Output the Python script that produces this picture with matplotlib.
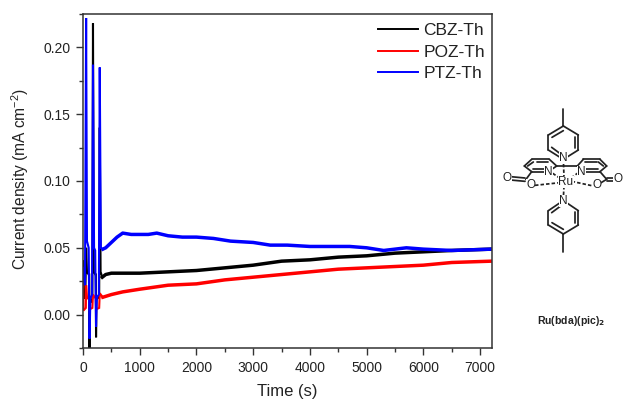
import matplotlib
matplotlib.use("Agg")
import matplotlib.pyplot as plt
from matplotlib.ticker import MultipleLocator, FormatStrFormatter

plt.rcParams['font.family'] = ['Liberation Sans', 'DejaVu Sans']
plt.rcParams['mathtext.default'] = 'regular'

names = ["CBZ-Th", "POZ-Th", "PTZ-Th"]
colors = ["#000000", "#ff0000", "#0000ff"]

cbz_t = [0, 5, 15, 40, 55, 70, 100, 110, 115, 122, 135, 165, 176, 190, 220, 226, 230, 236, 250, 285, 295, 310, 340, 400, 500, 700, 1000, 1500, 2000, 2500, 3000, 3500, 4000, 4500, 5000, 5500, 6000, 6500, 7200]
cbz_v = [0.040, 0.018, 0.014, 0.012, 0.05, 0.032, 0.030, 0.030, -0.025, 0.010, 0.009, 0.012, 0.218, 0.032, 0.030, 0.030, -0.017, 0.011, 0.012, 0.013, 0.14, 0.032, 0.028, 0.030, 0.031, 0.031, 0.031, 0.032, 0.033, 0.035, 0.037, 0.040, 0.041, 0.043, 0.044, 0.046, 0.047, 0.048, 0.049]

poz_t = [0, 4, 8, 50, 55, 70, 110, 118, 165, 175, 225, 232, 285, 295, 350, 500, 700, 1000, 1500, 2000, 2500, 3000, 3500, 4000, 4500, 5000, 5500, 6000, 6500, 7200]
poz_v = [0.023, 0.022, 0.003, 0.005, 0.022, 0.013, 0.011, 0.004, 0.005, 0.015, 0.012, 0.004, 0.005, 0.016, 0.013, 0.015, 0.017, 0.019, 0.022, 0.023, 0.026, 0.028, 0.030, 0.032, 0.034, 0.035, 0.036, 0.037, 0.039, 0.040]

ptz_t = [0, 15, 35, 55, 70, 100, 115, 130, 160, 176, 195, 215, 230, 245, 280, 295, 315, 350, 400, 500, 600, 700, 850, 1000, 1150, 1300, 1500, 1750, 2000, 2300, 2600, 3000, 3300, 3600, 4000, 4300, 4700, 5000, 5300, 5700, 6000, 6500, 7200]
ptz_v = [0.035, 0.025, 0.022, 0.222, 0.055, 0.050, -0.018, 0.012, 0.015, 0.187, 0.050, 0.048, -0.009, 0.013, 0.015, 0.185, 0.050, 0.049, 0.050, 0.054, 0.058, 0.061, 0.060, 0.060, 0.060, 0.061, 0.059, 0.058, 0.058, 0.057, 0.055, 0.054, 0.052, 0.052, 0.051, 0.051, 0.051, 0.050, 0.048, 0.050, 0.049, 0.048, 0.049]

W, H = 623, 400
fig = plt.figure(figsize=(W / 100, H / 100), dpi=100)
ax = fig.add_axes([83 / W, 1 - 348 / H, (491.5 - 83) / W, (348 - 14) / H])
frame = "#333333"

series = [(cbz_t, cbz_v), (poz_t, poz_v), (ptz_t, ptz_v)]
for (t, v), n, c in zip(series, names, colors):
    split = next(i for i, x in enumerate(t) if x >= 340)
    ax.plot(t[:split + 1], v[:split + 1], color=c, lw=1.5, solid_joinstyle='miter')
    ax.plot(t[split:], v[split:], color=c, lw=2.5)
    ax.plot([], [], color=c, lw=1.4, label=n)

ax.set_xlim(0, 7200)
ax.set_ylim(-0.025, 0.225)
ax.xaxis.set_major_locator(MultipleLocator(1000))
ax.xaxis.set_minor_locator(MultipleLocator(500))
ax.yaxis.set_major_locator(MultipleLocator(0.05))
ax.yaxis.set_minor_locator(MultipleLocator(0.025))
ax.yaxis.set_major_formatter(FormatStrFormatter('%.2f'))
ax.tick_params(which='major', length=5, width=1.0, labelsize=10, color=frame, labelcolor="#222222", pad=4)
ax.tick_params(which='minor', length=3, width=1.0, color=frame)
for s in ax.spines.values():
    s.set_linewidth(1.1)
    s.set_color(frame)
ax.set_xlabel("Time (s)", fontsize=12, color="#222222", labelpad=7)
ax.set_ylabel("Current density (mA cm$^{-2}$)", fontsize=11.2, color="#222222", labelpad=9, y=0.505)

leg = ax.legend(loc='upper right', bbox_to_anchor=(1.005, 1.0), frameon=False, fontsize=12.5,
                handlelength=2.3, handletextpad=0.3, labelspacing=0.38,
                borderaxespad=0.2, borderpad=0.3)
for txt in leg.get_texts():
    txt.set_color("#222222")

# Molecular structure, drawn in the reference's pixel space
mol = fig.add_axes([0, 0, 1, 1], facecolor='none')
mol.set_xlim(0, W)
mol.set_ylim(H, 0)
mol.axis('off')
def P(x, y):
    return 490 + x / 3, 90 + y / 3
def bond(a, b, **kw):
    (x0, y0), (x1, y1) = P(*a), P(*b)
    kw.setdefault('lw', 1.25)
    mol.plot([x0, x1], [y0, y1], color="#222222", solid_capstyle='round', **kw)
def dash(a, b):
    bond(a, b, ls=(0, (2, 1.2)))
def atom(x, y, s, fs=8.5):
    px, py = P(x, y)
    mol.text(px, py, s, fontsize=fs, ha='center', va='center', color="#222222",
             bbox=dict(fc='white', ec='none', pad=0.1))

for chain in [
    [(220, 58), (220, 108), (265, 135), (265, 180), (225, 205)],
    [(220, 108), (175, 135), (175, 180), (215, 205)],
    [(220, 122), (186, 142)], [(254, 140), (254, 175)], [(185, 172), (212, 192)],
    [(220, 485), (220, 432), (265, 405), (265, 362), (225, 335)],
    [(220, 432), (175, 405), (175, 362), (215, 335)],
    [(220, 418), (186, 398)], [(254, 365), (254, 400)], [(185, 368), (212, 348)],
    [(175, 245), (125, 245), (103, 228), (125, 208), (178, 208), (200, 228), (175, 245)],
    [(113, 228), (130, 216)], [(130, 237), (170, 237)], [(140, 216), (175, 216)],
    [(275, 245), (330, 245), (350, 228), (330, 208), (280, 208), (262, 228), (275, 245)],
    [(340, 228), (325, 216)], [(285, 237), (325, 237)], [(285, 216), (320, 216)],
    [(200, 228), (262, 228)],
    [(125, 245), (108, 268), (122, 284)], [(330, 245), (350, 268), (320, 286)],
    [(62, 260), (105, 264)], [(62, 270), (105, 274)],
    [(350, 264), (375, 264)], [(350, 272), (375, 272)],
]:
    for a, b in zip(chain[:-1], chain[1:]):
        bond(a, b)
dash((220, 205), (222, 262))
dash((222, 288), (220, 325))
dash((135, 286), (210, 278))
dash((245, 274), (310, 288))
dash((188, 250), (212, 266))
dash((265, 248), (240, 266))
atom(220, 205, "N")
atom(220, 333, "N")
atom(175, 245, "N")
atom(275, 245, "N")
atom(228, 275, "Ru")
atom(122, 284, "O")
atom(320, 286, "O")
atom(52, 264, "O")
atom(384, 267, "O")
px, py = P(243, 693)
mol.text(px, py, r"Ru(bda)(pic)$\mathbf{_2}$", fontsize=7.6, fontweight='bold', ha='center', va='center',
         color="#222222")

fig.savefig("out.png", dpi=100)
